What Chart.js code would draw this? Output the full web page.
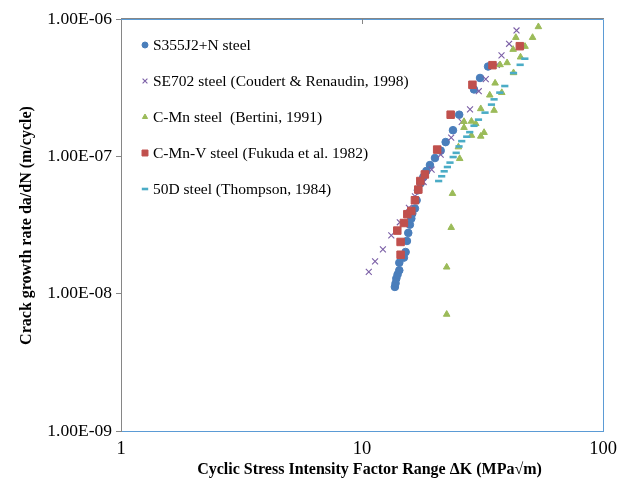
<!DOCTYPE html>
<html>
<head>
<meta charset="utf-8">
<script src="https://cdn.jsdelivr.net/npm/chart.js@4/dist/chart.umd.min.js"></script>
<style>
  html, body { margin: 0; padding: 0; background: #fff; }
  #wrap { width: 624px; height: 483px; }
</style>
</head>
<body>
<div id="wrap"><canvas id="c" width="624" height="483"></canvas></div>
<script>
// Fatigue crack growth data: da/dN (m/cycle) against stress intensity range dK (MPa*sqrt(m))
const seriesNames = [
  'S355J2+N steel',
  'SE702 steel (Coudert & Renaudin, 1998)',
  'C-Mn steel  (Bertini, 1991)',
  'C-Mn-V steel (Fukuda et al. 1982)',
  '50D steel (Thompson, 1984)'
];

const s355K    = [13.69, 13.78, 13.88, 14.05, 14.28, 14.28, 14.92, 15.17, 15.36, 15.56, 15.80, 16.02, 16.17, 16.58, 16.85, 17.06, 17.51, 17.97, 18.49, 19.14, 20.08, 21.21, 22.24, 23.85, 25.31, 29.16, 30.89, 33.36];
const s355Rate = [1.12e-8, 1.19e-8, 1.29e-8, 1.38e-8, 1.48e-8, 1.68e-8, 1.83e-8, 2.01e-8, 2.42e-8, 2.77e-8, 3.18e-8, 3.52e-8, 3.83e-8, 4.17e-8, 4.79e-8, 5.66e-8, 6.36e-8, 7.07e-8, 7.82e-8, 8.64e-8, 9.72e-8, 1.10e-7, 1.27e-7, 1.55e-7, 2.01e-7, 3.07e-7, 3.72e-7, 4.51e-7];

const se702K    = [10.67, 11.33, 12.21, 13.23, 14.35, 15.65, 16.58, 18.02, 19.45, 21.21, 23.45, 25.93, 28.07, 30.51, 32.63, 36.25, 37.92, 40.77, 43.77];
const se702Rate = [1.44e-8, 1.72e-8, 2.10e-8, 2.66e-8, 3.31e-8, 4.22e-8, 5.12e-8, 6.50e-8, 8.00e-8, 1.03e-7, 1.37e-7, 1.78e-7, 2.20e-7, 2.98e-7, 3.65e-7, 4.63e-7, 5.43e-7, 6.60e-7, 8.25e-7];

const cmnK    = [22.46, 22.46, 23.45, 23.74, 25.43, 25.12, 28.45, 31.10, 32.10, 26.50, 29.65, 26.50, 28.45, 31.10, 35.32, 33.89, 38.02, 35.67, 42.53, 37.41, 40.00, 45.48, 42.37, 47.48, 43.48, 51.02, 53.94];
const cmnRate = [7.07e-9, 1.56e-8, 3.03e-8, 5.36e-8, 9.62e-8, 1.17e-7, 1.42e-7, 1.40e-7, 1.49e-7, 1.62e-7, 1.73e-7, 1.79e-7, 1.80e-7, 2.22e-7, 2.16e-7, 2.79e-7, 2.91e-7, 3.41e-7, 4.06e-7, 4.64e-7, 4.80e-7, 5.28e-7, 6.00e-7, 6.31e-7, 7.33e-7, 7.33e-7, 8.78e-7];

const cmnvK    = [14.46, 14.46, 14.01, 14.92, 15.42, 16.02, 16.58, 17.13, 17.46, 18.23, 20.51, 23.33, 28.72, 34.79, 45.17];
const cmnvRate = [1.92e-8, 2.38e-8, 2.88e-8, 3.27e-8, 3.79e-8, 4.00e-8, 4.79e-8, 5.73e-8, 6.61e-8, 7.38e-8, 1.12e-7, 2.01e-7, 3.32e-7, 4.61e-7, 6.34e-7];

const d50K    = [20.80, 21.41, 21.93, 22.61, 23.18, 23.89, 24.59, 25.27, 25.93, 27.20, 27.99, 29.16, 30.43, 32.40, 34.45, 35.32, 37.30, 39.13, 42.53, 45.31, 47.40];
const d50Rate = [6.61e-8, 7.16e-8, 7.78e-8, 8.36e-8, 9.00e-8, 9.88e-8, 1.06e-7, 1.18e-7, 1.29e-7, 1.39e-7, 1.50e-7, 1.67e-7, 1.85e-7, 2.08e-7, 2.38e-7, 2.60e-7, 2.91e-7, 3.25e-7, 4.04e-7, 4.64e-7, 5.14e-7];

const xTickValues = [1, 10, 100];
const xTickLabels = ['1', '10', '100'];
const yTickValues = [1e-9, 1e-8, 1e-7, 1e-6];
const yTickLabels = ['1.00E-09', '1.00E-08', '1.00E-07', '1.00E-06'];

const xTitle = 'Cyclic Stress Intensity Factor Range \u0394K (MPa\u221Am)';
const yTitle = 'Crack growth rate da/dN (m/cycle)';

const pairs = (xs, ys) => xs.map((v, i) => ({ x: v, y: ys[i] }));

const SERIF = '"Liberation Serif", "Times New Roman", serif';
const AXIS_GRAY = '#868686';
const FRAME_BLUE = '#5B9BD5';

Chart.defaults.font.family = SERIF;
Chart.defaults.font.size = 15.5;
Chart.defaults.color = '#000';

const styles = [
  { color: '#4A7EBB', pointStyle: 'circle',   radius: 3.8, borderWidth: 1,   legendRadius: 3 },
  { color: '#7B5FA6', pointStyle: 'crossRot', radius: 4.2, borderWidth: 1.1, legendRadius: 3.4 },
  { color: '#9BBB59', pointStyle: 'triangle', radius: 3.8, borderWidth: 1,   legendRadius: 3 },
  { color: '#C0504D', pointStyle: 'rect',     radius: 5.3, borderWidth: 1,   legendRadius: 4.2 },
  { color: '#4BACC6', pointStyle: 'line',     radius: 3.6, borderWidth: 2.6, legendRadius: 3.2 }
];

const seriesData = [
  pairs(s355K, s355Rate),
  pairs(se702K, se702Rate),
  pairs(cmnK, cmnRate),
  pairs(cmnvK, cmnvRate),
  pairs(d50K, d50Rate)
];

const datasets = seriesData.map((d, i) => ({
  label: seriesNames[i],
  data: d,
  showLine: false,
  pointStyle: styles[i].pointStyle,
  pointRadius: styles[i].radius,
  pointHoverRadius: styles[i].radius,
  pointBorderWidth: styles[i].borderWidth,
  backgroundColor: styles[i].color,
  borderColor: styles[i].color,
  order: seriesNames.length - i   // later series drawn on top
}));

// frame, legend and axis titles
const decorations = {
  id: 'decorations',
  afterDraw(chart) {
    const { ctx, chartArea: a } = chart;
    const xs = chart.scales.x;
    ctx.save();

    // plot-area border on top and right
    ctx.lineWidth = 1;
    ctx.strokeStyle = FRAME_BLUE;
    ctx.beginPath();
    ctx.moveTo(a.left, a.top + 0.5);
    ctx.lineTo(a.right + 0.5, a.top + 0.5);
    ctx.lineTo(a.right + 0.5, a.bottom);
    ctx.stroke();

    // secondary axis line along the top with an inward tick at each inner decade
    ctx.strokeStyle = AXIS_GRAY;
    ctx.beginPath();
    ctx.moveTo(a.left, a.top - 0.5);
    ctx.lineTo(a.right + 1, a.top - 0.5);
    xTickValues.slice(1, -1).forEach(v => {
      const px = Math.round(xs.getPixelForValue(v)) + 0.5;
      ctx.moveTo(px, a.top);
      ctx.lineTo(px, a.top + 5);
    });
    ctx.stroke();

    // legend
    ctx.textAlign = 'left';
    ctx.textBaseline = 'middle';
    ctx.font = '15.5px ' + SERIF;
    seriesNames.forEach((name, i) => {
      const y = a.top + 26 + i * 36;
      const mx = a.left + 24;
      const st = styles[i];
      ctx.fillStyle = st.color;
      ctx.strokeStyle = st.color;
      ctx.lineWidth = st.borderWidth;
      Chart.helpers.drawPoint(ctx, { pointStyle: st.pointStyle, radius: st.legendRadius, rotation: 0, borderWidth: st.borderWidth }, mx, y);
      ctx.fillStyle = '#000';
      ctx.fillText(name, a.left + 32, y + 1);
    });

    // axis titles
    ctx.fillStyle = '#000';
    ctx.font = 'bold 16px ' + SERIF;
    ctx.textAlign = 'center';
    ctx.textBaseline = 'middle';
    ctx.fillText(xTitle, 369.5, 470);
    ctx.translate(27, 225.5);
    ctx.rotate(-Math.PI / 2);
    ctx.fillText(yTitle, 0, 0);
    ctx.restore();
  }
};

new Chart(document.getElementById('c'), {
  type: 'scatter',
  data: { datasets },
  options: {
    responsive: false,
    animation: false,
    events: [],
    layout: { padding: { left: 0, top: 19, right: 21, bottom: 0 } },
    plugins: { legend: { display: false }, tooltip: { enabled: false } },
    scales: {
      x: {
        type: 'logarithmic',
        position: 'bottom',
        min: 1,
        max: 100,
        afterBuildTicks: s => { s.ticks = xTickValues.map(v => ({ value: v })); },
        afterFit: s => { s.height = 52; },
        ticks: {
          autoSkip: false,
          maxRotation: 0,
          padding: 7,
          color: '#000',
          font: { size: 18.5 },
          callback: (v, i) => xTickLabels[i]
        },
        grid: { display: true, drawOnChartArea: false, drawTicks: false, color: FRAME_BLUE },
        border: { display: true, color: FRAME_BLUE, width: 1 }
      },
      y: {
        type: 'logarithmic',
        position: 'left',
        min: 1e-9,
        max: 1e-6,
        afterBuildTicks: s => { s.ticks = yTickValues.map(v => ({ value: v })); },
        afterFit: s => { s.width = 121; },
        ticks: {
          autoSkip: false,
          padding: 4,
          color: '#000',
          font: { size: 17.5 },
          callback: (v, i) => yTickLabels[i]
        },
        grid: { display: true, drawOnChartArea: false, drawTicks: true, tickLength: 5, color: AXIS_GRAY },
        border: { display: true, color: AXIS_GRAY, width: 1 }
      }
    }
  },
  plugins: [decorations]
});
</script>
</body>
</html>
